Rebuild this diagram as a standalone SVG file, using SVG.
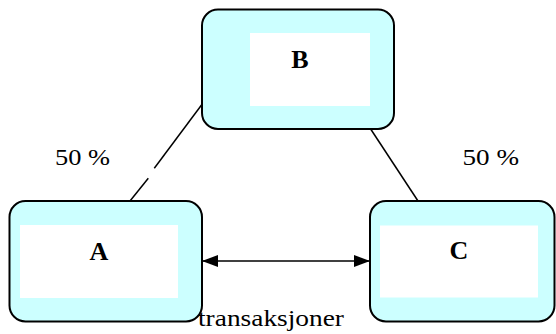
<svg xmlns="http://www.w3.org/2000/svg" width="556" height="334" viewBox="0 0 556 334">
<style>
.outer{fill:#ccffff;stroke:#000;stroke-width:2}
.inner{fill:#fff;stroke:none}
.ln{stroke:#000;stroke-width:1.5;fill:none}
</style>
<defs>
<marker id="ah" markerWidth="16" markerHeight="14" refX="15" refY="7" orient="auto-start-reverse" markerUnits="userSpaceOnUse" viewBox="0 0 16 14">
<path d="M0,1 L16,7 L0,13 z" fill="#000"/>
</marker>
</defs>
<g id="connectors">
<line class="ln" x1="201.5" y1="105" x2="154.3" y2="168.3"/>
<line class="ln" x1="148.3" y1="178.3" x2="130" y2="201"/>
<line class="ln" x1="370" y1="128" x2="418" y2="201"/>
<line class="ln" x1="203" y1="261" x2="369" y2="261" marker-start="url(#ah)" marker-end="url(#ah)"/>
</g>
<g id="node-B">
<rect class="outer" x="202" y="9.5" width="192" height="119.5" rx="16"/>
<rect class="inner" x="250" y="33" width="120" height="73"/>
<text x="300" y="68" font-family="Liberation Serif, serif" font-weight="bold" font-size="26" text-anchor="middle">B</text>
</g>
<g id="node-A">
<rect class="outer" x="9.5" y="201" width="192.5" height="120.5" rx="16"/>
<rect class="inner" x="20" y="225" width="158" height="73"/>
<text x="99" y="260" font-family="Liberation Serif, serif" font-weight="bold" font-size="26" text-anchor="middle">A</text>
</g>
<g id="node-C">
<rect class="outer" x="370" y="201" width="184.5" height="120.5" rx="16"/>
<rect class="inner" x="380" y="225.5" width="158" height="72"/>
<text x="459" y="259" font-family="Liberation Serif, serif" font-weight="bold" font-size="26" text-anchor="middle">C</text>
</g>
<g font-family="Liberation Serif, serif" font-size="24">
<text x="55" y="165" textLength="55" lengthAdjust="spacingAndGlyphs">50 %</text>
<text x="462.5" y="165" textLength="56.5" lengthAdjust="spacingAndGlyphs">50 %</text>
<text x="198" y="326" textLength="146" lengthAdjust="spacingAndGlyphs">transaksjoner</text>
</g>
</svg>
